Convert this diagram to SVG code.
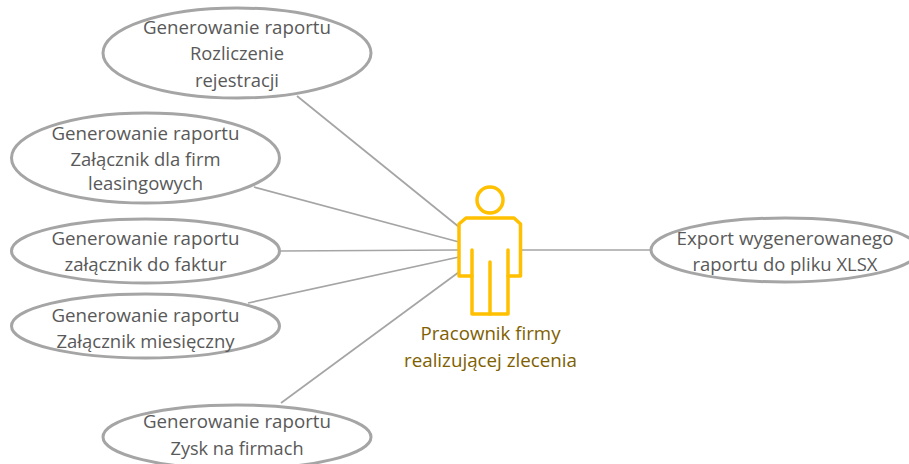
<svg xmlns="http://www.w3.org/2000/svg" width="909" height="464" viewBox="0 0 909 464">
<style>
.e{fill:#fff;stroke:#a5a5a5;stroke-width:3}
.c{stroke:#a5a5a5;stroke-width:1.700;fill:none}
.p{fill:none;stroke:#ffc000;stroke-width:3.500;stroke-linejoin:round;stroke-linecap:round}
text{font-family:"Open Sans","Noto Sans","Liberation Sans",sans-serif;font-size:18px;fill:#595959;text-anchor:middle}
.a{fill:#7f6000}
</style>
<rect width="909" height="464" fill="#fff"/>
<g id="connectors">
<line class="c" x1="297" y1="96" x2="459" y2="227"/>
<line class="c" x1="254" y1="187" x2="459" y2="242"/>
<line class="c" x1="280" y1="251" x2="459" y2="250"/>
<line class="c" x1="248" y1="303" x2="459" y2="257"/>
<line class="c" x1="281" y1="403" x2="459" y2="272"/>
<line class="c" x1="520" y1="250" x2="651" y2="250"/>
</g>
<g id="n1"><ellipse class="e" cx="237" cy="53" rx="134" ry="45"/>
<text x="237" y="34" textLength="188" lengthAdjust="spacingAndGlyphs">Generowanie raportu</text><text x="237" y="60" textLength="94" lengthAdjust="spacingAndGlyphs">Rozliczenie</text><text x="237" y="87" textLength="84" lengthAdjust="spacingAndGlyphs">rejestracji</text></g>
<g id="n2"><ellipse class="e" cx="145.500" cy="158" rx="134" ry="45"/>
<text x="145.500" y="140" textLength="188" lengthAdjust="spacingAndGlyphs">Generowanie raportu</text><text x="145.500" y="166" textLength="150" lengthAdjust="spacingAndGlyphs">Załącznik dla firm</text><text x="145.500" y="190" textLength="115" lengthAdjust="spacingAndGlyphs">leasingowych</text></g>
<g id="n3"><ellipse class="e" cx="145.500" cy="251" rx="134" ry="32"/>
<text x="145.500" y="245" textLength="188" lengthAdjust="spacingAndGlyphs">Generowanie raportu</text><text x="145.500" y="271" textLength="162" lengthAdjust="spacingAndGlyphs">załącznik do faktur</text></g>
<g id="n4"><ellipse class="e" cx="145.500" cy="326" rx="134" ry="32"/>
<text x="145.500" y="322" textLength="188" lengthAdjust="spacingAndGlyphs">Generowanie raportu</text><text x="145.500" y="348" textLength="178" lengthAdjust="spacingAndGlyphs">Załącznik miesięczny</text></g>
<g id="n5"><ellipse class="e" cx="237" cy="437" rx="134" ry="32"/>
<text x="237" y="428" textLength="188" lengthAdjust="spacingAndGlyphs">Generowanie raportu</text><text x="237" y="455" textLength="133" lengthAdjust="spacingAndGlyphs">Zysk na firmach</text></g>
<g id="n6"><ellipse class="e" cx="785" cy="250" rx="134" ry="32"/>
<text x="785" y="245" textLength="217" lengthAdjust="spacingAndGlyphs">Export wygenerowanego</text><text x="785" y="271" textLength="185" lengthAdjust="spacingAndGlyphs">raportu do pliku XLSX</text></g>
<g id="actor">
<circle class="p" cx="490" cy="200" r="13"/>
<path class="p" d="M466 218H514L520.500 224V276H508V314H472V276H459V224Z"/>
<path class="p" d="M472 250V276M508 250V276M490 262V314"/>
<text class="a" x="490.500" y="340" textLength="140" lengthAdjust="spacingAndGlyphs">Pracownik firmy</text><text class="a" x="490.500" y="367" textLength="173" lengthAdjust="spacingAndGlyphs">realizującej zlecenia</text>
</g>
</svg>
